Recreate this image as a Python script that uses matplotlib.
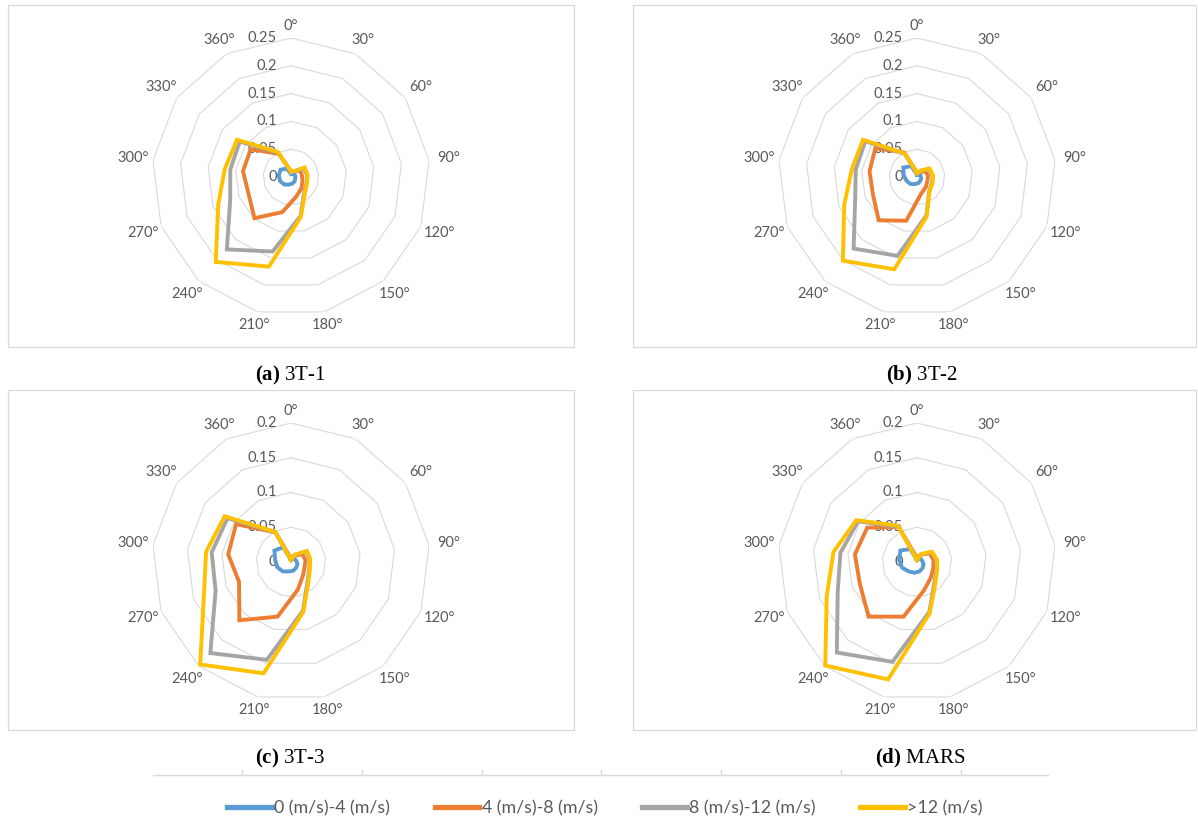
import numpy as np
import matplotlib
matplotlib.use('Agg')
from matplotlib import pyplot as plt
from matplotlib.patches import Rectangle
from matplotlib.lines import Line2D
from matplotlib.transforms import offset_copy

plt.rcParams['font.family'] = ['Lato', 'DejaVu Sans']
plt.rcParams['mathtext.fontset'] = 'custom'
plt.rcParams['mathtext.rm'] = 'Liberation Serif'
plt.rcParams['mathtext.bf'] = 'Liberation Serif:bold'

W, H = 1198, 825

directions = ['0°', '30°', '60°', '90°', '120°', '150°', '180°',
              '210°', '240°', '270°', '300°', '330°', '360°']
series_names = ['0 (m/s)-4 (m/s)', '4 (m/s)-8 (m/s)',
                '8 (m/s)-12 (m/s)', '>12 (m/s)']
colors = ['#5B9BD5', '#ED7D31', '#A5A5A5', '#FFC000']

# (a) 3T-1
t1_0_4 = [0.006, 0.006, 0.008, 0.008, 0.008, 0.010, 0.012, 0.014, 0.018, 0.021, 0.022, 0.023, 0.017]
t1_4_8 = [0.010, 0.012, 0.020, 0.020, 0.022, 0.028, 0.037, 0.065, 0.099, 0.082, 0.087, 0.088, 0.047]
t1_8_12 = [0.009, 0.011, 0.028, 0.029, 0.030, 0.036, 0.072, 0.138, 0.174, 0.117, 0.110, 0.112, 0.049]
t1_12 = [0.010, 0.012, 0.030, 0.030, 0.031, 0.038, 0.074, 0.166, 0.204, 0.140, 0.120, 0.118, 0.051]

# (b) 3T-2
t2_0_4 = [0.004, 0.005, 0.007, 0.007, 0.008, 0.009, 0.011, 0.013, 0.017, 0.020, 0.024, 0.030, 0.022]
t2_4_8 = [0.008, 0.010, 0.018, 0.020, 0.020, 0.024, 0.031, 0.081, 0.104, 0.085, 0.086, 0.091, 0.050]
t2_8_12 = [0.006, 0.012, 0.026, 0.028, 0.029, 0.033, 0.071, 0.146, 0.172, 0.119, 0.111, 0.113, 0.047]
t2_12 = [0.007, 0.013, 0.027, 0.029, 0.030, 0.034, 0.073, 0.171, 0.201, 0.140, 0.118, 0.118, 0.048]

# (c) 3T-3
t3_0_4 = [0.003, 0.005, 0.007, 0.008, 0.010, 0.011, 0.013, 0.014, 0.018, 0.021, 0.023, 0.029, 0.024]
t3_4_8 = [0.005, 0.010, 0.020, 0.021, 0.021, 0.026, 0.041, 0.081, 0.112, 0.080, 0.091, 0.096, 0.048]
t3_8_12 = [0.003, 0.011, 0.027, 0.027, 0.028, 0.036, 0.072, 0.145, 0.175, 0.116, 0.115, 0.111, 0.048]
t3_12 = [0.003, 0.012, 0.028, 0.028, 0.029, 0.038, 0.074, 0.165, 0.197, 0.134, 0.123, 0.116, 0.049]

# (d) MARS
mars_0_4 = [0.003, 0.005, 0.007, 0.008, 0.010, 0.012, 0.014, 0.016, 0.018, 0.023, 0.026, 0.029, 0.021]
mars_4_8 = [0.006, 0.012, 0.022, 0.024, 0.025, 0.030, 0.042, 0.081, 0.105, 0.088, 0.090, 0.087, 0.057]
mars_8_12 = [0.003, 0.012, 0.025, 0.028, 0.030, 0.038, 0.074, 0.148, 0.174, 0.122, 0.111, 0.103, 0.057]
mars_12 = [0.003, 0.013, 0.026, 0.029, 0.031, 0.040, 0.076, 0.174, 0.199, 0.139, 0.121, 0.106, 0.059]

ticks_ab = [0, 0.05, 0.1, 0.15, 0.2, 0.25]
ticks_cd = [0, 0.05, 0.1, 0.15, 0.2]
tick_text_ab = ['0', '0.05', '0.1', '0.15', '0.2', '0.25']
tick_text_cd = ['0', '0.05', '0.1', '0.15', '0.2']

GRID = '#D9D9D9'
TXT = '#595959'
R_PX = 139

fig = plt.figure(figsize=(W / 100, H / 100), dpi=100)


def frame(x0, y0, x1, y1):
    fig.add_artist(Rectangle((x0 / W, 1 - y1 / H), (x1 - x0) / W, (y1 - y0) / H,
                             transform=fig.transFigure, fill=False,
                             ec=GRID, lw=0.9))


def radar(cx, cy, data, ticks, tick_text):
    ax = fig.add_axes([(cx - R_PX) / W, 1 - (cy + R_PX) / H,
                       2 * R_PX / W, 2 * R_PX / H], projection='polar')
    ax.set_theta_zero_location('N')
    ax.set_theta_direction(-1)
    rmax = ticks[-1]
    ax.set_ylim(0, rmax)
    ax.grid(False)
    ax.set_xticks([])
    ax.set_yticks([])
    ax.spines['polar'].set_visible(False)
    ax.patch.set_alpha(0)
    n = len(directions)
    theta = np.arange(n) * 2 * np.pi / n
    tc = np.append(theta, theta[0])
    for r in ticks[1:]:
        ax.plot(tc, [r] * (n + 1), color=GRID, lw=0.8, zorder=1)
    tr = offset_copy(ax.transData, fig=fig, x=-10, y=0, units='points')
    for r, s in zip(ticks, tick_text):
        ax.text(0, r, s, transform=tr, ha='right', va='center',
                fontsize=10.5, color=TXT, zorder=2)
    for th, lab in zip(theta, directions):
        rp = 151 + 8 * abs(np.sin(th))
        ax.text(th, rp / R_PX * rmax, lab, ha='center', va='center',
                fontsize=10.5, color=TXT, clip_on=False)
    for vals, c in zip(data, colors):
        v = np.append(vals, vals[0])
        ax.plot(tc, v, color=c, lw=2.8, solid_joinstyle='miter', zorder=3,
                clip_on=False)
    return ax


frame(8, 5, 574, 347)
frame(633, 5, 1196, 347)
frame(8, 390, 574, 730)
frame(633, 390, 1196, 730)

radar(291, 177, [t1_0_4, t1_4_8, t1_8_12, t1_12], ticks_ab, tick_text_ab)
radar(917, 177, [t2_0_4, t2_4_8, t2_8_12, t2_12], ticks_ab, tick_text_ab)
radar(291, 562, [t3_0_4, t3_4_8, t3_8_12, t3_12], ticks_cd, tick_text_cd)
radar(917, 562, [mars_0_4, mars_4_8, mars_8_12, mars_12], ticks_cd, tick_text_cd)

captions = [(290, 375, r'$\mathbf{(a)}$ 3T-1'), (922, 375, r'$\mathbf{(b)}$ 3T-2'),
            (290, 758, r'$\mathbf{(c)}$ 3T-3'), (920, 758, r'$\mathbf{(d)}$ MARS')]
for x, y, s in captions:
    fig.text(x / W, 1 - y / H, s, ha='center', va='center', fontsize=15,
             family='Liberation Serif', color='black')

# leftover axis line above the legend
fig.add_artist(Line2D([153 / W, 1048 / W], [1 - 775 / H, 1 - 775 / H],
                      transform=fig.transFigure, color=GRID, lw=1))
for x in np.arange(7) * 119.8 + 242:
    fig.add_artist(Line2D([x / W, x / W], [1 - 770 / H, 1 - 775 / H],
                          transform=fig.transFigure, color=GRID, lw=1))

handles = [Line2D([], [], color=c, lw=3.8) for c in colors]
leg = fig.legend(handles, series_names, loc='center', ncol=4, frameon=False,
                 bbox_to_anchor=(605 / W, 1 - 808 / H), fontsize=12.8,
                 handlelength=2.5, handletextpad=0.15, columnspacing=2.5)
for t in leg.get_texts():
    t.set_color(TXT)

plt.savefig('out.png', dpi=100)
